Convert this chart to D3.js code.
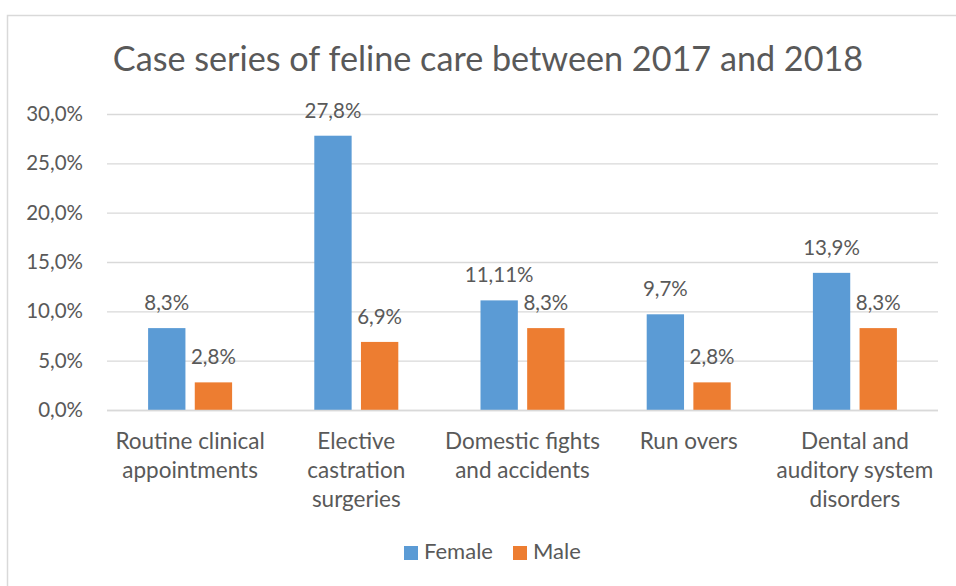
<!DOCTYPE html>
<html><head><meta charset="utf-8">
<script src="https://cdn.jsdelivr.net/npm/d3@7"></script>
<style>html,body{margin:0;padding:0;background:#fff;}svg{display:block;}</style>
</head><body>
<svg id="c" width="956" height="586"></svg>
<script>
const title = "Case series of feline care between 2017 and 2018";
const categories = ["Routine clinical\nappointments", "Elective\ncastration\nsurgeries", "Domestic fights\nand accidents", "Run overs", "Dental and\nauditory system\ndisorders"];
const seriesNames = ["Female", "Male"];
const female = [8.3, 27.8, 11.11, 9.7, 13.9];
const male = [2.8, 6.9, 8.3, 2.8, 8.3];
const yTicks = [0, 5, 10, 15, 20, 25, 30];
const colors = ["#5B9BD5", "#ED7D31"];

(function () {
const font = "Lato, Open Sans, sans-serif";
const textColor = "#595959";
const svg = d3.select("#c");

// chart border
svg.append("rect").attr("x", 7.5).attr("y", 15.5).attr("width", 960).attr("height", 600)
  .attr("fill", "#fff").attr("stroke", "#D9D9D9").attr("stroke-width", 1.5);

const pL = 107, pR = 938, pT = 114, pB = 410;
const y = d3.scaleLinear().domain([0, 30]).range([pB, pT]);
const x0 = d3.scaleBand().domain(d3.range(categories.length)).range([pL, pR]).paddingInner(0).paddingOuter(0);
const x1 = d3.scaleBand().domain([0, 1]).range([0, 84]).paddingInner(0.2).paddingOuter(0);
const groupOffset = (x0.bandwidth() - 84) / 2;

// title
svg.append("text").attr("x", 488).attr("y", 71).attr("text-anchor", "middle")
  .attr("font-family", font).attr("font-size", 34.2).attr("fill", textColor).text(title);

// gridlines and y axis
const yAxis = d3.axisLeft(y).tickValues(yTicks).tickSize(-(pR - pL)).tickPadding(24)
  .tickFormat(d => d3.format(".1f")(d).replace(".", ",") + "%");
const ga = svg.append("g").attr("transform", `translate(${pL},0)`).call(yAxis);
ga.select(".domain").remove();
ga.selectAll(".tick line").attr("stroke", "#D9D9D9").attr("stroke-width", 1.3);
ga.selectAll(".tick text").attr("font-family", font).attr("font-size", 20.5).attr("fill", textColor);

// bars
const data = [female, male];
data.forEach((vals, s) => {
  const g = svg.append("g");
  g.selectAll("rect").data(vals).join("rect")
    .attr("x", (d, i) => x0(i) + groupOffset + x1(s))
    .attr("width", x1.bandwidth())
    .attr("y", d => y(d))
    .attr("height", d => y(0) - y(d))
    .attr("fill", colors[s]);
  g.selectAll("text").data(vals).join("text")
    .attr("x", (d, i) => x0(i) + groupOffset + x1(s) + x1.bandwidth() / 2)
    .attr("y", d => y(d) - 18)
    .attr("text-anchor", "middle")
    .attr("font-family", font).attr("font-size", 20.5).attr("fill", textColor)
    .text(d => String(d).replace(".", ",") + "%");
});

// x axis line
svg.append("line").attr("x1", pL).attr("x2", pR).attr("y1", pB + 0.5).attr("y2", pB + 0.5)
  .attr("stroke", "#D9D9D9").attr("stroke-width", 1.5);

// category labels
categories.forEach((c, i) => {
  const t = svg.append("text").attr("text-anchor", "middle")
    .attr("font-family", font).attr("font-size", 22.5).attr("fill", textColor);
  c.split("\n").forEach((line, j) => {
    t.append("tspan").attr("x", x0(i) + x0.bandwidth() / 2).attr("y", 449 + j * 29).text(line);
  });
});

// legend
const legendX = [404, 513];
seriesNames.forEach((n, s) => {
  svg.append("rect").attr("x", legendX[s]).attr("y", 546).attr("width", 14).attr("height", 14).attr("fill", colors[s]);
  svg.append("text").attr("x", legendX[s] + 20).attr("y", 559).attr("font-family", font)
    .attr("font-size", 22).attr("fill", textColor).text(n);
});
})();
</script>
</body></html>
